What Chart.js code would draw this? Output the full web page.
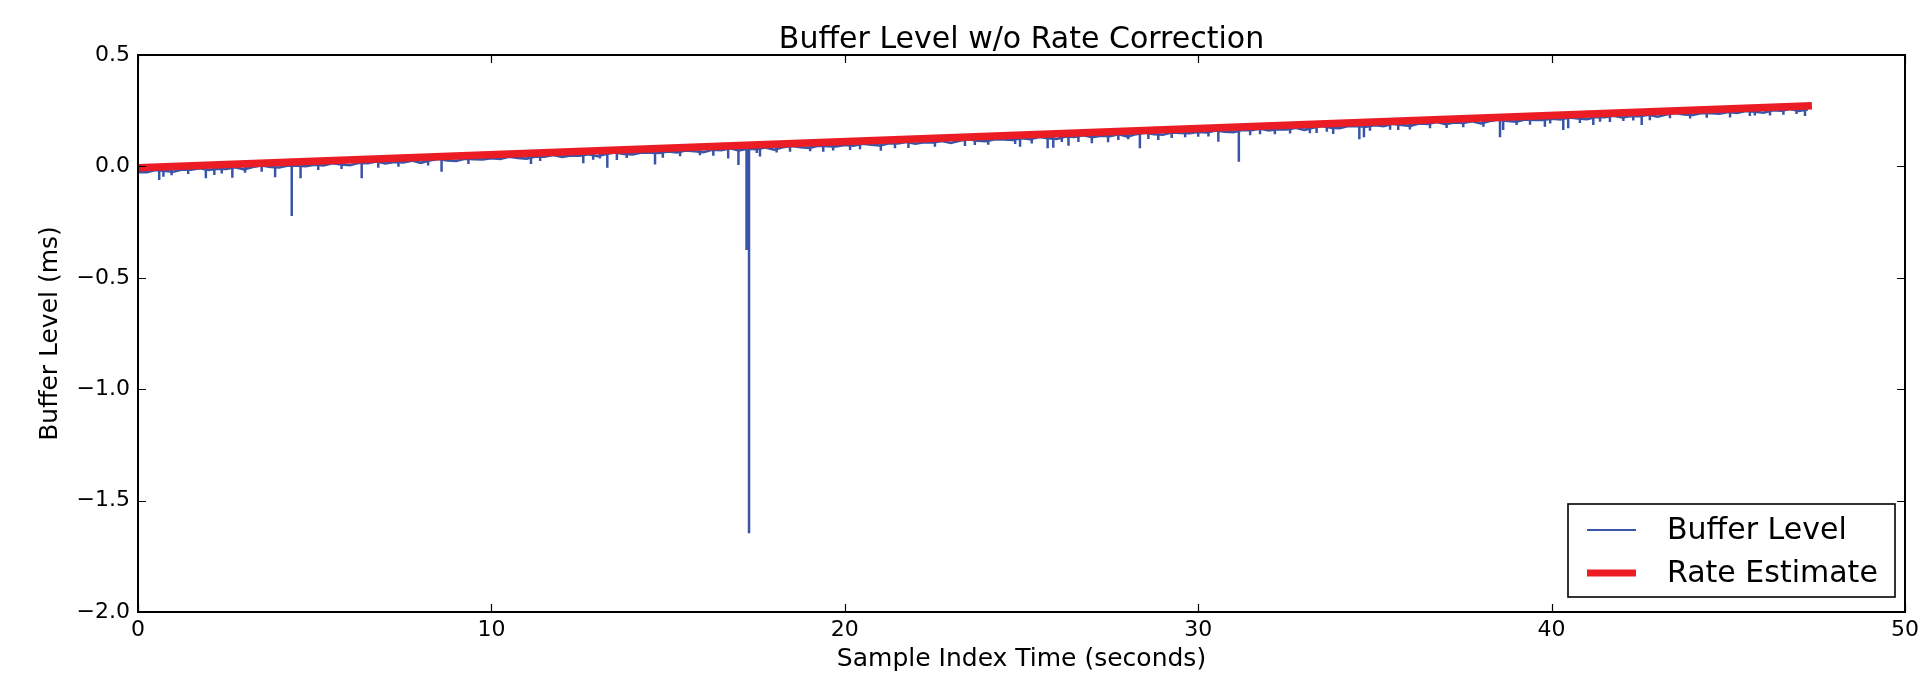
<!DOCTYPE html>
<html>
<head>
<meta charset="utf-8">
<script src="https://cdn.jsdelivr.net/npm/chart.js@4"></script>
<style>
  html, body { margin: 0; padding: 0; background: #fff; }
  #wrap { width: 1919px; height: 677px; }
</style>
</head>
<body>
<div id="wrap"><canvas id="myChart" width="1919" height="677"></canvas></div>
<script>
// buffer level samples, one every 0.25 s (ms)
const sampleStep = 0.25;
const bufferLevel = [
  -0.026, -0.026, -0.016, -0.021, -0.024, -0.014, -0.015, -0.008, -0.016, -0.010,
  -0.011, -0.004, -0.013, -0.003, 0.004, -0.003, -0.005, 0.004, 0.003, 0.001,
  0.008, 0.004, 0.014, 0.009, 0.005, 0.016, 0.014, 0.022, 0.013, 0.020,
  0.018, 0.026, 0.016, 0.027, 0.033, 0.027, 0.024, 0.034, 0.032, 0.031,
  0.037, 0.034, 0.043, 0.038, 0.035, 0.045, 0.044, 0.051, 0.043, 0.049,
  0.048, 0.055, 0.046, 0.056, 0.063, 0.056, 0.054, 0.063, 0.062, 0.060,
  0.067, 0.063, 0.072, 0.068, 0.064, 0.075, 0.073, 0.081, 0.072, 0.079,
  0.077, 0.085, 0.075, 0.086, 0.092, 0.086, 0.083, 0.093, 0.091, 0.090,
  0.096, 0.093, 0.102, 0.097, 0.094, 0.104, 0.103, 0.110, 0.102, 0.108,
  0.107, 0.114, 0.105, 0.115, 0.122, 0.115, 0.113, 0.122, 0.121, 0.119,
  0.126, 0.122, 0.132, 0.127, 0.123, 0.134, 0.132, 0.140, 0.131, 0.138,
  0.136, 0.144, 0.134, 0.145, 0.151, 0.145, 0.142, 0.152, 0.150, 0.149,
  0.155, 0.152, 0.161, 0.156, 0.153, 0.163, 0.162, 0.169, 0.161, 0.167,
  0.166, 0.173, 0.164, 0.174, 0.181, 0.174, 0.172, 0.181, 0.180, 0.178,
  0.185, 0.181, 0.191, 0.186, 0.182, 0.193, 0.191, 0.199, 0.190, 0.197,
  0.195, 0.203, 0.193, 0.204, 0.210, 0.204, 0.201, 0.211, 0.209, 0.208,
  0.214, 0.211, 0.220, 0.215, 0.212, 0.222, 0.221, 0.228, 0.220, 0.226,
  0.225, 0.232, 0.223, 0.233, 0.240, 0.233, 0.231, 0.240, 0.239, 0.237,
  0.244, 0.240, 0.249, 0.245, 0.241, 0.252, 0.250, 0.258, 0.249, 0.256
];

// the larger downward dips in the buffer level
const spikeTime = [
  0.60, 0.72, 1.92, 2.16, 2.67, 3.88, 4.35, 4.60, 6.33, 8.59,
  11.12, 12.60, 13.28, 13.55, 14.63, 14.85, 16.70, 16.99, 17.22, 17.29,
  17.60, 19.39, 20.43, 21.02, 22.55, 24.96, 25.74, 25.90, 26.33, 26.99,
  27.45, 28.35, 28.87, 30.57, 31.15, 32.17, 33.16, 33.82, 34.56, 34.69,
  35.66, 38.54, 38.63, 39.81, 40.33, 40.47, 41.18, 42.55, 43.35, 45.75, 47.17
];
const spikeTop = [
  -0.012, -0.012, -0.005, -0.003, 0.000, 0.007, 0.010, 0.011, 0.021, 0.035,
  0.050, 0.058, 0.062, 0.064, 0.070, 0.072, 0.083, 0.084, 0.086, 0.086,
  0.088, 0.098, 0.105, 0.108, 0.117, 0.131, 0.136, 0.137, 0.139, 0.143,
  0.146, 0.151, 0.154, 0.164, 0.168, 0.174, 0.180, 0.184, 0.188, 0.189,
  0.194, 0.211, 0.212, 0.219, 0.222, 0.223, 0.227, 0.235, 0.240, 0.254, 0.262
];
const spikeLow = [
  -0.061, -0.046, -0.053, -0.039, -0.051, -0.049, -0.223, -0.053, -0.053, -0.024,
  0.011, 0.014, -0.006, 0.029, 0.009, 0.039, 0.036, 0.006, -0.375, -1.647,
  0.044, 0.066, 0.077, 0.070, 0.088, 0.088, 0.081, 0.084, 0.093, 0.104,
  0.108, 0.081, 0.118, 0.111, 0.021, 0.144, 0.149, 0.145, 0.122, 0.131,
  0.163, 0.131, 0.163, 0.178, 0.163, 0.171, 0.186, 0.186, 0.216, 0.228, 0.226
];

// short teeth hanging under the band
const dipTime = [
  0.95, 1.42, 2.37, 3.03, 3.50, 5.10, 5.76, 6.80, 7.37, 8.21, 9.35,
  11.38, 12.88, 13.07, 13.83, 15.34, 15.90, 16.28, 17.51, 18.07, 18.45, 19.02, 19.67, 20.15,
  21.42, 21.80, 23.40, 23.68, 24.06, 24.82, 25.29, 26.14, 26.61, 27.74, 28.02, 28.59, 29.25, 29.63, 30.00, 30.29,
  31.47, 31.75, 32.60, 33.35, 33.64, 34.86, 35.43, 35.99, 36.56, 37.03, 37.50, 38.07, 39.01, 39.39, 39.96, 40.80,
  41.37, 41.65, 42.03, 42.31, 42.78, 43.92, 44.39, 45.05, 45.61, 46.18, 46.56, 46.93
];
const dipTop = [
  -0.010, -0.008, -0.002, 0.002, 0.005, 0.014, 0.018, 0.024, 0.028, 0.032, 0.039,
  0.051, 0.060, 0.061, 0.066, 0.075, 0.078, 0.080, 0.087, 0.091, 0.093, 0.096, 0.100, 0.103,
  0.110, 0.113, 0.122, 0.124, 0.126, 0.130, 0.133, 0.138, 0.141, 0.148, 0.149, 0.153, 0.157, 0.159, 0.161, 0.163,
  0.170, 0.171, 0.176, 0.181, 0.183, 0.190, 0.193, 0.196, 0.200, 0.203, 0.205, 0.209, 0.214, 0.216, 0.220, 0.225,
  0.228, 0.230, 0.232, 0.234, 0.236, 0.243, 0.246, 0.250, 0.253, 0.257, 0.259, 0.261
];
const dipLow = [
  -0.040, -0.034, -0.032, -0.028, -0.024, -0.016, -0.012, -0.006, -0.002, 0.004, 0.011,
  0.024, 0.030, 0.035, 0.038, 0.045, 0.050, 0.048, 0.060, 0.062, 0.066, 0.068, 0.071, 0.074,
  0.082, 0.083, 0.092, 0.096, 0.097, 0.101, 0.103, 0.109, 0.110, 0.118, 0.122, 0.123, 0.128, 0.131, 0.133, 0.134,
  0.140, 0.144, 0.148, 0.150, 0.155, 0.160, 0.165, 0.166, 0.171, 0.172, 0.176, 0.178, 0.186, 0.187, 0.192, 0.195,
  0.200, 0.199, 0.204, 0.206, 0.207, 0.215, 0.218, 0.220, 0.226, 0.229, 0.232, 0.235
];

// fitted rate line
const rateTime = [0, 47.26];
const rateLevel = [-0.006, 0.272];

const xTicks = [0, 10, 20, 30, 40, 50];
const yTicks = [-2.0, -1.5, -1.0, -0.5, 0.0, 0.5];

const blue = '#3a54a6';
const red = '#ec1c24';

const bufferPoints = bufferLevel.map((v, i) => ({ x: i * sampleStep, y: v }));
const spikePoints = [];
const addDrops = (times, tops, lows) => {
  times.forEach((t, i) => {
    spikePoints.push({ x: t, y: tops[i] });
    spikePoints.push({ x: t, y: lows[i] });
    spikePoints.push({ x: t, y: null });
  });
};
addDrops(spikeTime, spikeTop, spikeLow);
addDrops(dipTime, dipTop, dipLow);
const ratePoints = rateTime.map((t, i) => ({ x: t, y: rateLevel[i] }));

const fmtNum = (v) => (v < -1e-9 ? '\u2212' : '') + Math.abs(v).toFixed(1);

// matplotlib style box, inward ticks and legend
const axesBox = {
  id: 'axesBox',
  afterDatasetsDraw(chart) {
    const { ctx, chartArea: a, scales } = chart;
    ctx.save();
    ctx.strokeStyle = '#000';
    ctx.lineWidth = 1.2;
    ctx.beginPath();
    for (const v of xTicks) {
      const px = Math.round(scales.x.getPixelForValue(v)) + 0.5;
      ctx.moveTo(px, a.bottom); ctx.lineTo(px, a.bottom - 8);
      ctx.moveTo(px, a.top); ctx.lineTo(px, a.top + 8);
    }
    for (const v of yTicks) {
      const py = Math.round(scales.y.getPixelForValue(v)) + 0.5;
      ctx.moveTo(a.left, py); ctx.lineTo(a.left + 8, py);
      ctx.moveTo(a.right, py); ctx.lineTo(a.right - 8, py);
    }
    ctx.stroke();
    ctx.lineWidth = 2;
    ctx.strokeRect(a.left, a.top, a.right - a.left, a.bottom - a.top);

    // legend
    const w = 327, h = 93;
    const lx = a.right - 10 - w, ly = a.bottom - 15 - h;
    ctx.fillStyle = '#fff';
    ctx.fillRect(lx, ly, w, h);
    ctx.lineWidth = 1.6;
    ctx.strokeRect(lx, ly, w, h);
    const items = [
      { label: chart.data.datasets[1].label, color: blue, width: 2, y: ly + 26 },
      { label: chart.data.datasets[0].label, color: red, width: 7, y: ly + 69 }
    ];
    ctx.font = '30px "DejaVu Sans"';
    ctx.textBaseline = 'middle';
    ctx.textAlign = 'left';
    for (const it of items) {
      ctx.strokeStyle = it.color;
      ctx.lineWidth = it.width;
      ctx.beginPath();
      ctx.moveTo(lx + 19, it.y); ctx.lineTo(lx + 68, it.y);
      ctx.stroke();
      ctx.fillStyle = '#000';
      ctx.fillText(it.label, lx + 99, it.y + 1);
    }
    ctx.restore();
  }
};

Chart.defaults.font.family = '"DejaVu Sans", sans-serif';
Chart.defaults.color = '#000';

const ctx = document.getElementById('myChart').getContext('2d');
const chart = new Chart(ctx, {
  type: 'line',
  data: {
    datasets: [{
      label: 'Rate Estimate',
      data: ratePoints,
      borderColor: red,
      borderWidth: 7.5,
      borderCapStyle: 'square',
      pointRadius: 0,
      order: 0
    }, {
      label: 'Buffer Level',
      data: bufferPoints,
      borderColor: blue,
      borderWidth: 2.6,
      pointRadius: 0,
      tension: 0,
      order: 1
    }, {
      label: 'spikes',
      data: spikePoints,
      borderColor: blue,
      borderWidth: 2.5,
      pointRadius: 0,
      spanGaps: false,
      order: 2
    }]
  },
  options: {
    responsive: false,
    animation: false,
    layout: { padding: { left: 0, right: 14, top: 0, bottom: 0 } },
    plugins: {
      legend: { display: false },
      tooltip: { enabled: false },
      title: {
        display: true,
        text: 'Buffer Level w/o Rate Correction',
        fullSize: false,
        font: { size: 30, weight: 'normal', lineHeight: 1 },
        color: '#000',
        padding: { top: 25, bottom: 0 }
      }
    },
    scales: {
      x: {
        type: 'linear',
        min: 0,
        max: 50,
        afterFit: (s) => { s.height = 65; s.paddingLeft = 0; s.paddingRight = 0; },
        afterBuildTicks: (s) => { s.ticks = xTicks.map(v => ({ value: v })); },
        grid: { display: false, drawTicks: false },
        border: { display: false },
        ticks: { padding: 5, font: { size: 22 }, callback: (v) => String(v) },
        title: {
          display: true,
          text: 'Sample Index Time (seconds)',
          font: { size: 25 },
          padding: { top: 0, bottom: 3 }
        }
      },
      y: {
        min: -2,
        max: 0.5,
        afterFit: (s) => { s.width = 138; s.paddingTop = 0; s.paddingBottom = 0; },
        afterBuildTicks: (s) => { s.ticks = yTicks.map(v => ({ value: v })); },
        grid: { display: false, drawTicks: false },
        border: { display: false },
        ticks: { padding: 8, font: { size: 22 }, callback: (v) => fmtNum(v) },
        title: {
          display: true,
          text: 'Buffer Level (ms)',
          font: { size: 25 },
          padding: { top: 35, bottom: 0 }
        }
      }
    }
  },
  plugins: [axesBox]
});
</script>
</body>
</html>
